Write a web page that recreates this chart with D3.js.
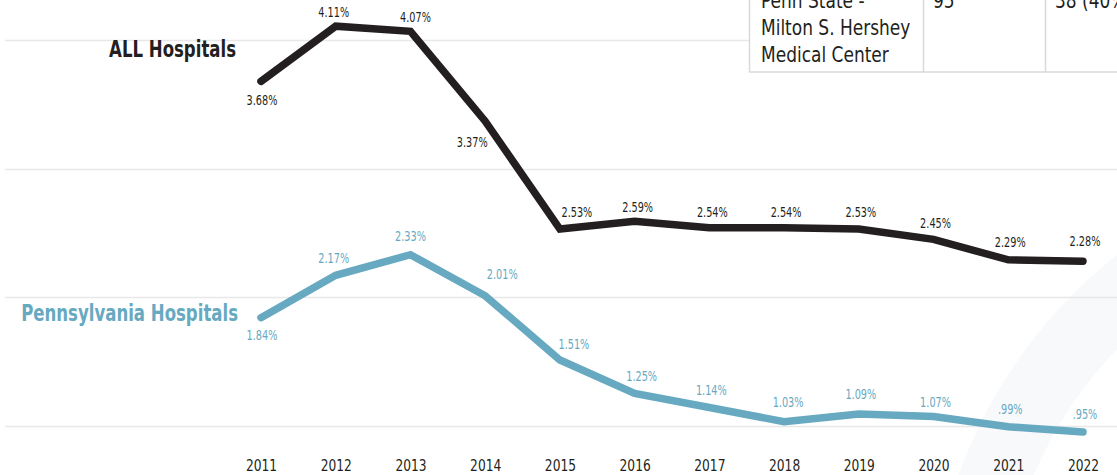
<!DOCTYPE html>
<html>
<head>
<meta charset="utf-8">
<script src="https://cdn.jsdelivr.net/npm/d3@7"></script>
<style>
  html, body { margin: 0; padding: 0; background: #fff; }
  svg { display: block; }
  text { font-family: "DejaVu Sans Condensed", "DejaVu Sans", sans-serif; }
</style>
</head>
<body>
<div id="chart-area"></div>
<script>
var width = 1117,
    height = 475;

// data
var years = [2011, 2012, 2013, 2014, 2015, 2016, 2017, 2018, 2019, 2020, 2021, 2022];
var allHospitals = [3.68, 4.11, 4.07, 3.37, 2.53, 2.59, 2.54, 2.54, 2.53, 2.45, 2.29, 2.28];
var paHospitals = [1.84, 2.17, 2.33, 2.01, 1.51, 1.25, 1.14, 1.03, 1.09, 1.07, 0.99, 0.95];
var allLabels = ["3.68%", "4.11%", "4.07%", "3.37%", "2.53%", "2.59%", "2.54%", "2.54%", "2.53%", "2.45%", "2.29%", "2.28%"];
var paLabels = ["1.84%", "2.17%", "2.33%", "2.01%", "1.51%", "1.25%", "1.14%", "1.03%", "1.09%", "1.07%", ".99%", ".95%"];
var gridValues = [1, 2, 3, 4];
var tableRows = [["Penn State -", "95", "38 (40%)"], ["Milton S. Hershey", "", ""], ["Medical Center", "", ""]];

// label nudges [dx, dy] relative to each point
var allOffsets = [[1, 24], [-2, -9], [5, -9], [-13, 26], [17, -12], [3, -9], [3, -11], [2, -11], [2, -12], [2, -11], [2, -13], [2, -15]];
var paOffsets = [[1, 22], [-2, -12], [0, -14], [17, -17], [14, -11], [7, -12], [2, -13], [4, -15], [2, -15], [2, -10], [2, -13], [2, -13]];

var black = "#231f20",
    teal = "#67a9c1";

// squeeze text horizontally to mimic a condensed face
function condense(sel, k) {
  sel.each(function() {
    var w = this.getComputedTextLength();
    d3.select(this)
        .attr("textLength", w * k)
        .attr("lengthAdjust", "spacingAndGlyphs");
  });
}

var svg = d3.select("#chart-area")
  .append("svg")
    .attr("width", width)
    .attr("height", height);

// faint decorative arc in background
svg.append("path")
    .attr("d", d3.arc()({innerRadius: 420, outerRadius: 490, startAngle: -1.75, endAngle: -0.2}))
    .attr("transform", "translate(1420,640)")
    .attr("fill", "#f7f9fb");

var x = d3.scalePoint()
    .domain(years)
    .range([261, 1083]);

var y = d3.scaleLinear()
    .domain([1, 4])
    .range([425.5, 40.3]);

// gridlines
svg.append("g")
    .selectAll("line")
    .data(gridValues)
  .enter().append("line")
    .attr("x1", 5)
    .attr("x2", width)
    .attr("y1", function(d) { return Math.round(y(d)) + 0.5; })
    .attr("y2", function(d) { return Math.round(y(d)) + 0.5; })
    .attr("stroke", "#e8e8e8")
    .attr("stroke-width", 1.5);

// year labels
var xAxis = svg.append("g")
    .attr("transform", "translate(0,455)")
    .call(d3.axisBottom(x).tickSize(0).tickPadding(0));
xAxis.select(".domain").remove();
xAxis.selectAll("text")
    .attr("font-size", 16)
    .attr("fill", black)
    .attr("dy", "1em")
    .style("font-family", "'DejaVu Sans Condensed', sans-serif")
    .call(condense, 0.85);

var line = d3.line()
    .x(function(d, i) { return x(years[i]); })
    .y(function(d) { return y(d); });

function drawSeries(values, labels, offsets, color) {
  svg.append("path")
      .datum(values)
      .attr("d", line)
      .attr("fill", "none")
      .attr("stroke", color)
      .attr("stroke-width", 7.5)
      .attr("stroke-linejoin", "miter")
      .attr("stroke-linecap", "round");

  svg.append("g")
      .selectAll("text")
      .data(values)
    .enter().append("text")
      .attr("x", function(d, i) { return x(years[i]) + offsets[i][0]; })
      .attr("y", function(d, i) { return y(d) + offsets[i][1]; })
      .attr("text-anchor", "middle")
      .attr("font-size", 13.5)
      .attr("fill", color)
      .text(function(d, i) { return labels[i]; })
      .call(condense, 0.8);
}

drawSeries(allHospitals, allLabels, allOffsets, black);
drawSeries(paHospitals, paLabels, paOffsets, teal);

// series names
svg.append("text")
    .attr("x", 236)
    .attr("y", 57)
    .attr("text-anchor", "end")
    .attr("font-size", 23)
    .attr("font-weight", "bold")
    .attr("fill", black)
    .text("ALL Hospitals")
    .call(condense, 0.8);

svg.append("text")
    .attr("x", 238)
    .attr("y", 321)
    .attr("text-anchor", "end")
    .attr("font-size", 23)
    .attr("font-weight", "bold")
    .attr("fill", teal)
    .text("Pennsylvania Hospitals")
    .call(condense, 0.8);

// table fragment at top right
var table = svg.append("g");
table.append("rect")
    .attr("x", 749.5)
    .attr("y", -10)
    .attr("width", 500)
    .attr("height", 82)
    .attr("fill", "#fff")
    .attr("stroke", "#d9d9d9")
    .attr("stroke-width", 1.5);
[923.5, 1045.5].forEach(function(cx) {
  table.append("line")
      .attr("x1", cx).attr("x2", cx)
      .attr("y1", -10).attr("y2", 72)
      .attr("stroke", "#d9d9d9")
      .attr("stroke-width", 1.5);
});
var colX = [761, 933, 1055];
tableRows.forEach(function(row, r) {
  row.forEach(function(cell, c) {
    if (!cell) return;
    table.append("text")
        .attr("x", colX[c])
        .attr("y", 8 + r * 27)
        .attr("font-size", 21)
        .attr("fill", "#231f20")
        .text(cell)
        .call(condense, 0.9);
  });
});
</script>
</body>
</html>
